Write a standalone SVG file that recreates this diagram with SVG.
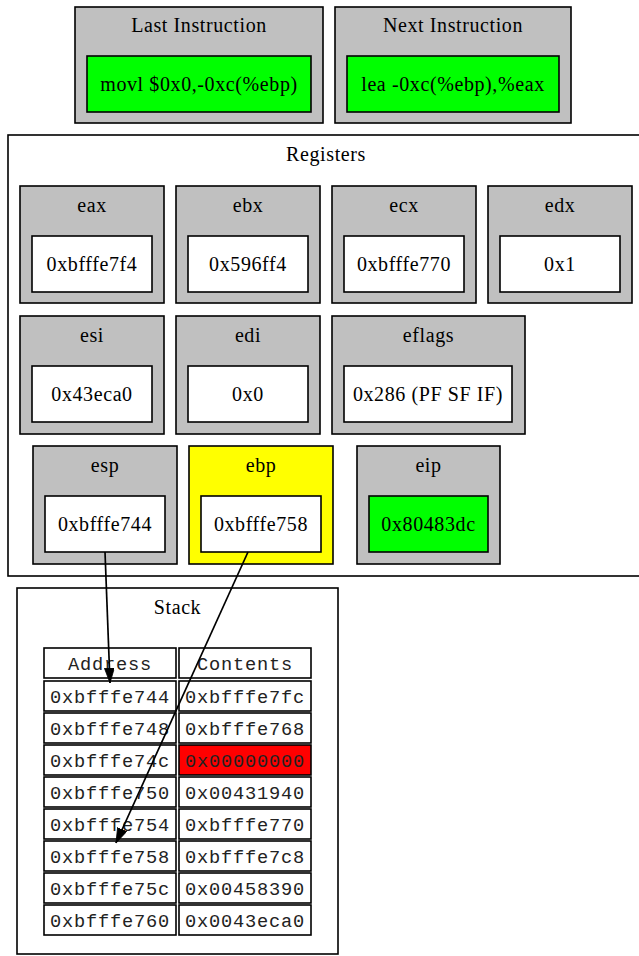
<svg xmlns="http://www.w3.org/2000/svg" width="639" height="956" viewBox="0 0 639 956">
<style>
.t{font-family:"Liberation Serif","Times New Roman",serif;font-size:20px;text-anchor:middle;fill:#000;letter-spacing:0.6px}
.m{font-family:"Liberation Mono","Courier New",monospace;font-size:18.67px;text-anchor:middle;fill:#222;letter-spacing:0.8px}
.cl{fill:#fff;stroke:#000;stroke-width:1.6}
.g{fill:#c0c0c0;stroke:#000;stroke-width:1.6}
.w{fill:#fff;stroke:#000;stroke-width:1.6}
.gr{fill:#00ff00;stroke:#000;stroke-width:1.6}
.y{fill:#ffff00;stroke:#000;stroke-width:1.6}
.r{fill:#ff0000;stroke:#000;stroke-width:1.6}
.e{stroke:#000;stroke-width:1.7;fill:none}
</style>
<defs>
<marker id="ah" markerWidth="16" markerHeight="11" refX="15" refY="5" orient="auto" markerUnits="userSpaceOnUse">
<path d="M0,0 L15,5 L0,10 z" fill="#000" stroke="#000" stroke-width="0.8"/>
</marker>
</defs>
<rect width="639" height="956" fill="#fff"/>

<g id="last">
<rect class="g" x="75" y="7" width="248" height="116"/>
<text class="t" x="199" y="32">Last Instruction</text>
<rect class="gr" x="87" y="56" width="224" height="56"/>
<text class="t" x="199" y="91">movl $0x0,-0xc(%ebp)</text>
</g>
<g id="next">
<rect class="g" x="335" y="7" width="236" height="116"/>
<text class="t" x="453" y="32">Next Instruction</text>
<rect class="gr" x="347" y="56" width="212" height="56"/>
<text class="t" x="453" y="91">lea -0xc(%ebp),%eax</text>
</g>

<g id="registers">
<rect class="cl" x="8" y="135" width="640" height="441"/>
<text class="t" x="326" y="161">Registers</text>
</g>
<g id="eax">
<rect class="g" x="20" y="186" width="144" height="117"/>
<text class="t" x="92" y="212">eax</text>
<rect class="w" x="32" y="236" width="120" height="56"/>
<text class="t" x="92" y="271">0xbfffe7f4</text>
</g>
<g id="ebx">
<rect class="g" x="176" y="186" width="144" height="117"/>
<text class="t" x="248" y="212">ebx</text>
<rect class="w" x="188" y="236" width="120" height="56"/>
<text class="t" x="248" y="271">0x596ff4</text>
</g>
<g id="ecx">
<rect class="g" x="332" y="186" width="144" height="117"/>
<text class="t" x="404" y="212">ecx</text>
<rect class="w" x="344" y="236" width="120" height="56"/>
<text class="t" x="404" y="271">0xbfffe770</text>
</g>
<g id="edx">
<rect class="g" x="488" y="186" width="144" height="117"/>
<text class="t" x="560" y="212">edx</text>
<rect class="w" x="500" y="236" width="120" height="56"/>
<text class="t" x="560" y="271">0x1</text>
</g>
<g id="esi">
<rect class="g" x="20" y="316" width="144" height="118"/>
<text class="t" x="92" y="342">esi</text>
<rect class="w" x="32" y="366" width="120" height="56"/>
<text class="t" x="92" y="401">0x43eca0</text>
</g>
<g id="edi">
<rect class="g" x="176" y="316" width="144" height="118"/>
<text class="t" x="248" y="342">edi</text>
<rect class="w" x="188" y="366" width="120" height="56"/>
<text class="t" x="248" y="401">0x0</text>
</g>
<g id="eflags">
<rect class="g" x="332" y="316" width="193" height="118"/>
<text class="t" x="428.5" y="342">eflags</text>
<rect class="w" x="344" y="366" width="168" height="56"/>
<text class="t" x="428" y="401">0x286 (PF SF IF)</text>
</g>
<g id="esp">
<rect class="g" x="33" y="446" width="144" height="118"/>
<text class="t" x="105" y="472">esp</text>
<rect class="w" x="45" y="496" width="120" height="56"/>
<text class="t" x="105" y="531">0xbfffe744</text>
</g>
<g id="ebp">
<rect class="y" x="189" y="446" width="144" height="118"/>
<text class="t" x="261" y="472">ebp</text>
<rect class="w" x="201" y="496" width="120" height="56"/>
<text class="t" x="261" y="531">0xbfffe758</text>
</g>
<g id="eip">
<rect class="g" x="357" y="446" width="143" height="118"/>
<text class="t" x="428.5" y="472">eip</text>
<rect class="gr" x="369" y="496" width="119" height="56"/>
<text class="t" x="428.5" y="531">0x80483dc</text>
</g>

<g id="stack">
<rect class="cl" x="17" y="588" width="321" height="366"/>
<text class="t" x="177.5" y="614">Stack</text>
<rect class="w" x="44" y="648" width="132" height="30"/>
<text class="m" x="110" y="670">Address</text>
<rect class="w" x="179" y="648" width="132" height="30"/>
<text class="m" x="245" y="670">Contents</text>

<rect class="w" x="44" y="681" width="132" height="30"/>
<text class="m" x="110" y="703">0xbfffe744</text>
<rect class="w" x="179" y="681" width="132" height="30"/>
<text class="m" x="245" y="703">0xbfffe7fc</text>

<rect class="w" x="44" y="713" width="132" height="30"/>
<text class="m" x="110" y="735">0xbfffe748</text>
<rect class="w" x="179" y="713" width="132" height="30"/>
<text class="m" x="245" y="735">0xbfffe768</text>

<rect class="w" x="44" y="745" width="132" height="30"/>
<text class="m" x="110" y="767">0xbfffe74c</text>
<rect class="r" x="179" y="745" width="132" height="30"/>
<text class="m" x="245" y="767">0x00000000</text>

<rect class="w" x="44" y="777" width="132" height="30"/>
<text class="m" x="110" y="799">0xbfffe750</text>
<rect class="w" x="179" y="777" width="132" height="30"/>
<text class="m" x="245" y="799">0x00431940</text>

<rect class="w" x="44" y="809" width="132" height="30"/>
<text class="m" x="110" y="831">0xbfffe754</text>
<rect class="w" x="179" y="809" width="132" height="30"/>
<text class="m" x="245" y="831">0xbfffe770</text>

<rect class="w" x="44" y="841" width="132" height="30"/>
<text class="m" x="110" y="863">0xbfffe758</text>
<rect class="w" x="179" y="841" width="132" height="30"/>
<text class="m" x="245" y="863">0xbfffe7c8</text>

<rect class="w" x="44" y="873" width="132" height="30"/>
<text class="m" x="110" y="895">0xbfffe75c</text>
<rect class="w" x="179" y="873" width="132" height="30"/>
<text class="m" x="245" y="895">0x00458390</text>

<rect class="w" x="44" y="905" width="132" height="30"/>
<text class="m" x="110" y="927">0xbfffe760</text>
<rect class="w" x="179" y="905" width="132" height="30"/>
<text class="m" x="245" y="927">0x0043eca0</text>
</g>

<g id="connectors">
<path class="e" d="M105,552 L110,683" marker-end="url(#ah)"/>
<path class="e" d="M248,552 L116,843" marker-end="url(#ah)"/>
</g>
</svg>
